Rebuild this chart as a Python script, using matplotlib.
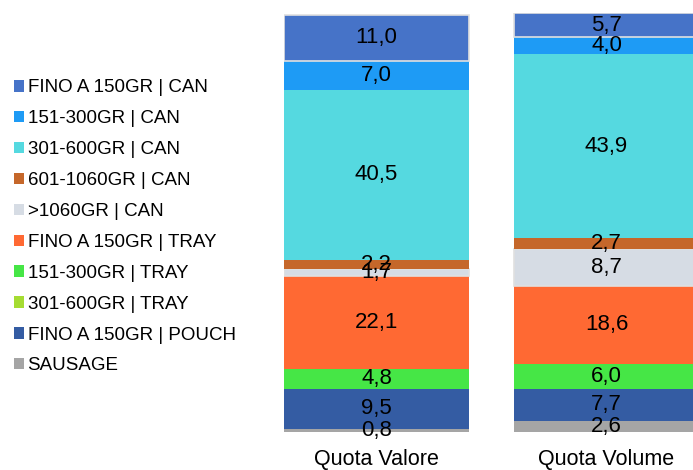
import matplotlib.pyplot as plt
from matplotlib.patches import Patch

plt.rcParams['font.family'] = ['Liberation Sans', 'DejaVu Sans']

# categories (bottom of stack first)
segments = ['SAUSAGE', 'FINO A 150GR | POUCH', '301-600GR | TRAY', '151-300GR | TRAY',
            'FINO A 150GR | TRAY', '>1060GR | CAN', '601-1060GR | CAN', '301-600GR | CAN',
            '151-300GR | CAN', 'FINO A 150GR | CAN']
colors = ['#a5a5a5', '#345ca3', '#a5dc32', '#46e646', '#ff6933',
          '#d6dce4', '#c5672a', '#55d9e0', '#1e9bf5', '#4673c8']
bars = ['Quota Valore', 'Quota Volume']
valore = [0.8, 9.5, 0.0, 4.8, 22.1, 1.7, 2.2, 40.5, 7.0, 11.0]
volume = [2.6, 7.7, 0.0, 6.0, 18.6, 8.7, 2.7, 43.9, 4.0, 5.7]

fig = plt.figure(figsize=(6.93, 4.70), dpi=100)
ax = fig.add_axes([284 / 693, 38 / 470, 409 / 693, 419 / 470])

x = [0, 1]
bottoms = [0.0, 0.0]
for i, name in enumerate(segments):
    vals = [valore[i], volume[i]]
    edge = '#e0e0e0' if name in ('FINO A 150GR | CAN', '>1060GR | CAN') else 'none'
    ax.bar(x, vals, width=0.804, bottom=bottoms, color=colors[i],
           edgecolor=edge, linewidth=1.2)
    for j in range(2):
        if vals[j] > 0:
            ax.text(x[j], bottoms[j] + vals[j] / 2, f'{vals[j]:.1f}'.replace('.', ','),
                    ha='center', va='center', fontsize=16, color='black')
    bottoms = [bottoms[0] + vals[0], bottoms[1] + vals[1]]

ax.set_xlim(-0.4022, -0.4022 + 409 / 230)
ax.set_ylim(0, 100)
ax.set_xticks(x)
ax.set_xticklabels(bars, fontsize=15.5)
ax.tick_params(axis='x', length=0, pad=12)
ax.set_yticks([])
for s in ax.spines.values():
    s.set_visible(False)

handles = [Patch(facecolor=c, edgecolor='none') for c in colors][::-1]
fig.legend(handles, segments[::-1], loc='upper left', bbox_to_anchor=(6 / 693, 1 - 72 / 470),
           frameon=False, fontsize=13.5, handlelength=0.55, handleheight=0.55,
           handletextpad=0.2, labelspacing=0.74, borderaxespad=0)

fig.savefig('out.png', dpi=100)
